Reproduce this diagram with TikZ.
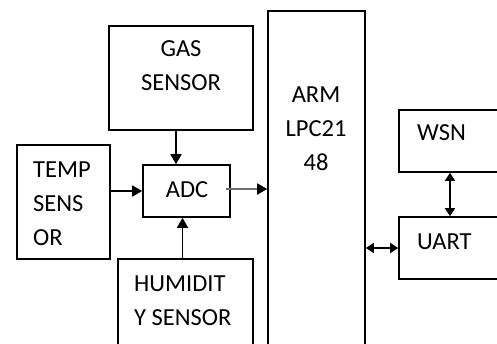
\documentclass[tikz,border=0pt]{standalone}
\usepackage{fontspec}
\setmainfont{Carlito}
\usetikzlibrary{arrows.meta,positioning}
\definecolor{LineGray}{RGB}{110,110,110}

\begin{document}
\begin{tikzpicture}[x=1pt,y=-1pt,
blk/.style={draw,line width=1.6pt,rectangle,inner sep=0pt},
lbl/.style={font=\fontsize{24.5}{34}\selectfont,inner sep=0pt},
arr/.style={line width=1.6pt,-{Triangle[length=10pt,width=11pt]}},
darr/.style={line width=1.6pt,{Triangle[length=8pt,width=10pt]}-{Triangle[length=8pt,width=10pt]}}]
\useasboundingbox (0,0) rectangle (497,343);
\clip (0,0) rectangle (497,343);
% blocks
\node[blk,minimum width=144pt,minimum height=104pt] (gas) at (181,78){};
\node[blk,minimum width=93pt,minimum height=114pt] (temp) at (63.5,202){};
\node[blk,minimum width=87pt,minimum height=52pt] (adc) at (186.5,191){};
\node[blk,minimum width=135pt,minimum height=122pt] (hum) at (185.5,320){};
\node[blk,minimum width=97pt,minimum height=390pt] (arm) at (316.5,206){};
\node[blk,minimum width=122pt,minimum height=62pt] (wsn) at (460,141){};
\node[blk,minimum width=122pt,minimum height=62pt] (uart) at (460,248){};
% texts
\node[lbl,align=center] (gastxt) at (181,66){GAS\\SENSOR};
\node[lbl,align=left,anchor=west] (temptxt) at (33,203.5){TEMP\\SENS\\OR};
\node[lbl] (adctxt) at (187,190){ADC};
\node[lbl,align=left,anchor=west] (humtxt) at (134,301){HUMIDIT\\Y SENSOR};
\node[lbl,align=center] (armtxt) at (316,128.5){ARM\\LPC21\\48};
\node[lbl,anchor=west] (wsntxt) at (417,133){WSN};
\node[lbl,anchor=west] (uarttxt) at (417,242){UART};
% links
\draw[arr] ([xshift=-5pt]gas.south) -- ([xshift=-10.5pt]adc.north);
\draw[arr] (temp.east |- adc.west) -- (adc.west);
\draw[arr] ([xshift=-3pt]hum.north) -- ([xshift=-3pt]hum.north |- adc.south);
\draw[line width=1.8pt,LineGray,-{Triangle[length=10pt,width=11pt,color=black]}] ([xshift=-5pt,yshift=2pt]adc.east) -- ([yshift=2pt]arm.west |- adc.east);
\draw[darr] (arm.east |- uart.west) -- (uart.west);
\draw[darr] ([xshift=-10pt]wsn.south) -- ([xshift=-10pt]uart.north);
\end{tikzpicture}
\end{document}
